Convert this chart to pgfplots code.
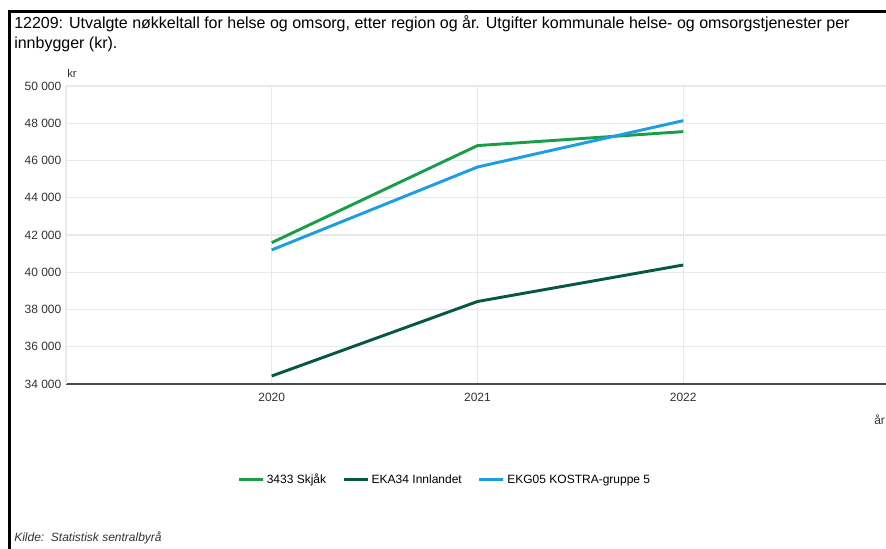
\documentclass[border=0pt]{standalone}
\usepackage{fontspec}
\setmainfont{Liberation Sans}
\usepackage{pgfplots}
\pgfplotsset{compat=1.18}

\definecolor{skjak}{HTML}{1A9D49}
\definecolor{innlandet}{HTML}{075745}
\definecolor{kostra}{HTML}{1D9DE2}
\definecolor{gridc}{HTML}{E6EAEA}
\definecolor{txt}{HTML}{333333}

\begin{document}
\begin{tikzpicture}
% page of 886 x 549 px, 1 px = 0.75pt, y downwards inside the scope
\begin{scope}[x=0.75pt,y=-0.75pt]
\useasboundingbox (0,0) rectangle (886,549);
\clip (0,0) rectangle (886,549);
\draw[line width=2.4pt] (9.5,549) -- (9.5,11.5) -- (886,11.5);

\node[anchor=base west, inner sep=0pt, font=\fontsize{12}{14}\selectfont] at (14,29)
  {12209: Utvalgte nøkkeltall for helse og omsorg, etter region og år. Utgifter kommunale helse- og omsorgstjenester per};
\node[anchor=base west, inner sep=0pt, font=\fontsize{12}{14}\selectfont] at (14,49)
  {innbygger (kr).};

\node[anchor=base west, inner sep=0pt, font=\fontsize{8.5}{10}\selectfont, text=txt] at (67,78) {kr};
\node[anchor=base west, inner sep=0pt, font=\fontsize{9}{11}\selectfont, text=txt] at (874,424) {år};
\node[anchor=base west, inner sep=0pt, font=\fontsize{9}{11}\selectfont\itshape, text=txt] at (14,541) {Kilde:\ \ Statistisk sentralbyrå};

\begin{axis}[
    at={(49.5pt,-288pt)}, anchor=south west,
    scale only axis, width=617.25pt, height=223.5pt,
    xmin=2019, xmax=2023,
    ymin=34000, ymax=50000,
    xtick={2020,2021,2022},
    ytick={34000,36000,...,50000},
    scaled y ticks=false,
    grid=major,
    grid style={gridc, line width=0.8pt},
    axis x line*=bottom, axis y line*=left,
    x axis line style={draw=black!70, line width=1.5pt},
    y axis line style={draw=gridc, line width=0.8pt},
    major tick length=0pt,
    /pgf/number format/assume math mode=true,
    yticklabel style={font=\fontsize{9}{11}\selectfont, text=txt,
        /pgf/number format/fixed, /pgf/number format/precision=0,
        /pgf/number format/1000 sep={\ }},
    xticklabel style={font=\fontsize{9}{11}\selectfont, text=txt, yshift=-3pt,
        /pgf/number format/1000 sep={}},
    legend columns=3,
    legend style={draw=none, fill=none, at={(0.4605,-0.322)}, anchor=center,
        font=\fontsize{9}{11}\selectfont,
        /tikz/every even column/.append style={column sep=10pt}},
    legend image code/.code={\draw[#1, line width=2.2pt] (0pt,0pt) -- (18pt,0pt);},
]
\addplot[skjak, line width=2.2pt] coordinates {(2020,41590) (2021,46800) (2022,47550)};
\addplot[innlandet, line width=2.2pt] coordinates {(2020,34430) (2021,38430) (2022,40390)};
\addplot[kostra, line width=2.2pt] coordinates {(2020,41200) (2021,45650) (2022,48140)};
\legend{3433 Skjåk, EKA34 Innlandet, EKG05 KOSTRA-gruppe 5}
\end{axis}
\end{scope}
\end{tikzpicture}
\end{document}
